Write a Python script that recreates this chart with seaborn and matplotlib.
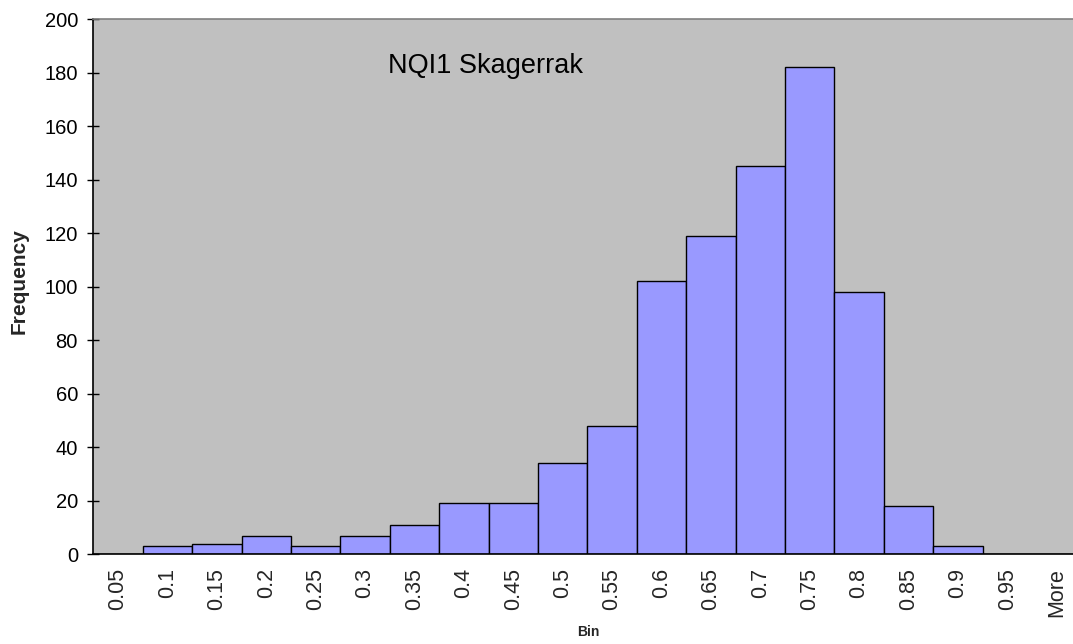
import matplotlib
matplotlib.use("Agg")
import matplotlib.pyplot as plt
import seaborn as sns
import pandas as pd

bins = ["0.05", "0.1", "0.15", "0.2", "0.25", "0.3", "0.35", "0.4", "0.45", "0.5",
        "0.55", "0.6", "0.65", "0.7", "0.75", "0.8", "0.85", "0.9", "0.95", "More"]
frequency = [0, 3, 4, 7, 3, 7, 11, 19, 19, 34, 48, 102, 119, 145, 182, 98, 18, 3, 0, 0]
title_text = "NQI1 Skagerrak"

sns.set_style("white")
plt.rcParams['font.family'] = ['Liberation Sans', 'DejaVu Sans']

df = pd.DataFrame({"Bin": bins, "Frequency": frequency})

W, H = 1073, 644
fig = plt.figure(figsize=(W / 100, H / 100), dpi=100)
ax = fig.add_axes([93.3 / W, 89.7 / H, 988 / W, 535 / H])
ax.set_facecolor("#C0C0C0")

sns.barplot(data=df, x="Bin", y="Frequency", ax=ax, color="#9999FF",
            width=1.0, edgecolor="black", linewidth=1.0, saturation=1)

ax.set_xlim(-0.5, len(bins) - 0.5)
ax.set_ylim(0, 200)
ax.set_yticks(range(0, 201, 20))
ax.tick_params(axis="y", direction="inout", length=9.2, width=1, colors="black",
               labelsize=14.5, left=True, pad=6.5)
ax.set_xticks(range(len(bins)))
ax.set_xticklabels(bins, rotation=90, fontsize=15.5)
ax.tick_params(axis="x", length=0, pad=10)
# ticks at category boundaries
ax.set_xticks([i - 0.5 for i in range(len(bins) + 1)], minor=True)
ax.tick_params(axis="x", which="minor", direction="inout", length=10, width=1, colors="black")

for s in ["left", "bottom"]:
    ax.spines[s].set_color("black")
    ax.spines[s].set_linewidth(1.2)
ax.spines["top"].set_color("#808080")
ax.spines["top"].set_linewidth(1.2)
ax.spines["right"].set_visible(False)

ax.set_ylabel("Frequency", fontsize=15, fontweight="bold")
ax.yaxis.set_label_coords(-(93.3 - 19) / 988, (554.3 - 281) / 535)
ax.set_xlabel("Bin", fontsize=10, fontweight="bold")
ax.xaxis.set_label_coords((588 - 93.3) / 988, -(632 - 554.3) / 535)
ax.xaxis.label.set_va("center")
ax.yaxis.label.set_va("center")

ax.text(5.47, 182.5, title_text, fontsize=19.5, ha="left", va="center", color="black")

fig.savefig("out.png", dpi=100)
